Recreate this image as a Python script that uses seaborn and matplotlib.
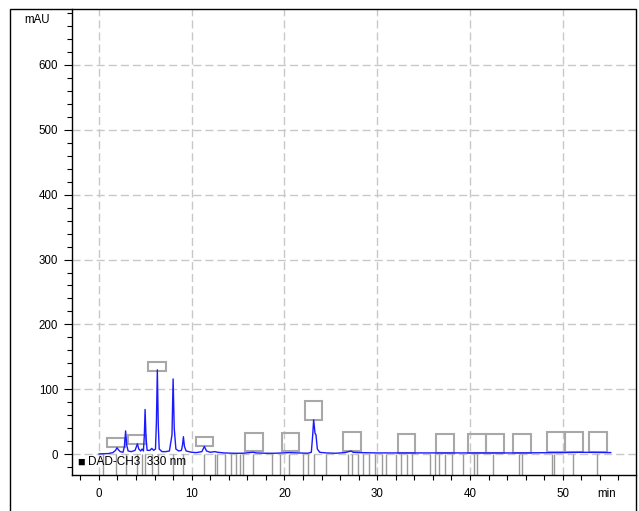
import numpy as np
import pandas as pd
import matplotlib
matplotlib.use("Agg")
import matplotlib.pyplot as plt
from matplotlib.patches import Rectangle
from matplotlib.ticker import FixedLocator, NullFormatter
import seaborn as sns

# Chromatogram trace (retention time in min, absorbance in mAU)
rt = [0.0, 0.5, 1.0, 1.5, 1.8, 1.95, 2.1, 2.3, 2.6, 2.75, 2.88, 3.0, 3.15, 3.5,
      3.9, 4.15, 4.3, 4.5, 4.65, 4.8, 4.9, 4.98, 5.08, 5.2, 5.5, 5.7, 5.9, 6.1,
      6.2, 6.3, 6.4, 6.5, 6.8, 7.2, 7.6, 7.88, 8.0, 8.12, 8.3, 8.6, 8.9, 9.02,
      9.11, 9.22, 9.4, 10.0, 10.5, 11.1, 11.37, 11.6, 12.0, 12.5, 12.8, 13.5,
      14.5, 15.5, 16.6, 17.0, 18.0, 19.0, 20.5, 21.5, 22.5, 22.9, 23.05, 23.15,
      23.3, 23.4, 23.55, 23.8, 24.5, 25.5, 26.5, 27.2, 27.4, 28.0, 30.0, 35.0,
      40.0, 45.0, 50.0, 52.0, 55.2]
mau = [0.5, 0.8, 1.0, 2.5, 6.0, 10.0, 7.0, 4.0, 3.0, 12.0, 36.0, 14.0, 5.0, 4.0,
       6.0, 16.0, 8.0, 5.0, 8.0, 5.0, 30.0, 69.0, 25.0, 6.0, 6.0, 9.0, 6.0, 8.0,
       50.0, 130.0, 45.0, 8.0, 4.0, 4.0, 5.0, 30.0, 116.0, 40.0, 8.0, 5.0, 6.0, 15.0,
       27.0, 12.0, 5.0, 3.0, 2.5, 4.0, 12.0, 5.0, 3.0, 4.0, 3.0, 2.0,
       1.5, 1.5, 3.0, 2.0, 1.5, 1.5, 2.5, 2.0, 1.5, 3.0, 30.0, 53.0,
       32.0, 30.0, 8.0, 3.0, 2.0, 1.5, 2.5, 5.0, 3.0, 2.5, 2.0, 2.0,
       2.0, 2.0, 2.5, 3.0, 2.5]

# Integration event markers (min)
events = [0.49, 1.85, 2.89, 4.15, 4.62, 4.98, 5.7, 6.34, 8.03, 9.11, 11.34,
          12.56, 12.77, 13.56, 14.2, 14.78, 15.2, 15.54, 16.65, 18.63, 19.56,
          20.53, 22.04, 22.51, 23.19, 24.45, 26.8, 27.25, 27.97, 28.5, 29.15,
          29.76, 30.48, 31.0, 32.0, 32.57, 33.18, 33.72, 35.7, 36.2, 36.7, 37.3,
          38.1, 39.2, 40.4, 40.8, 42.5, 45.25, 45.57, 48.87, 49.09, 51.13, 53.7]

# Peak label boxes: centre time (min), lower edge and height (mAU)
box_rt = [1.84, 4.08, 6.28, 11.37, 16.7, 20.66, 23.15, 27.3, 33.16, 37.34,
          40.75, 42.73, 45.6, 49.25, 51.2, 53.8]
box_low = [11.3, 15.4, 128.0, 12.3, 4.6, 4.6, 52.5, 5.0, 2.6, 2.6,
           2.6, 2.6, 2.6, 3.5, 3.5, 3.5]
box_h = [14.0, 14.0, 14.5, 14.4, 28.0, 28.0, 29.8, 30.0, 29.0, 29.0,
         29.0, 29.0, 29.0, 30.0, 30.0, 30.0]
box_w = 1.9

x_labels = [0, 10, 20, 30, 40, 50]
y_labels = [0, 100, 200, 300, 400, 500, 600]
channel = "DAD-CH3  330 nm"

sns.set_theme(style="white")
plt.rcParams["font.family"] = ["Liberation Sans", "DejaVu Sans"]

W, H = 639, 511
fig = plt.figure(figsize=(W / 100, H / 100), dpi=100)
ax = fig.add_axes([72 / W, 36 / H, (636 - 72) / W, (475 - 9) / H])

xlim = (-2.9, 57.9)
ylim = (-32, 686)

# grid
grid_kw = dict(color="#c8c8c8", lw=1.0, dashes=(5.8, 2.9), zorder=0)
for gx in x_labels:
    ax.axvline(gx, **grid_kw)
for gy in y_labels:
    ax.axhline(gy, **grid_kw)

# event markers below the baseline
ax.vlines(events, ylim[0], 0, colors="#9a9a9a", lw=1.0, zorder=1)

# peak label boxes
for c, lo, h in zip(box_rt, box_low, box_h):
    ax.add_patch(Rectangle((c - box_w / 2, lo), box_w, h, fill=False,
                           ec="#a8a8a8", lw=1.5, zorder=2))

df = pd.DataFrame({"rt": rt, "mAU": mau})
sns.lineplot(data=df, x="rt", y="mAU", ax=ax, color="#1a1aff", lw=1.0,
             zorder=3, estimator=None, sort=False)

ax.set_xlim(*xlim)
ax.set_ylim(*ylim)
ax.set_xlabel("")
ax.set_ylabel("")

ax.xaxis.set_major_locator(FixedLocator(x_labels))
ax.xaxis.set_minor_locator(FixedLocator([v for v in range(-2, 58, 2) if v % 10]))
ax.yaxis.set_major_locator(FixedLocator(y_labels))
ax.yaxis.set_minor_locator(FixedLocator([v for v in range(-20, 690, 20) if v % 100]))
ax.xaxis.set_minor_formatter(NullFormatter())
ax.yaxis.set_minor_formatter(NullFormatter())

ax.tick_params(axis="x", which="both", direction="out", length=3.8, width=0.8,
               colors="black", labelsize=8.3, pad=5.5, bottom=True)
ax.tick_params(axis="y", which="major", direction="out", length=5.5, width=0.8,
               colors="black", labelsize=8.3, pad=4.5, left=True)
ax.tick_params(axis="y", which="minor", direction="out", length=3.5, width=0.8,
               colors="black", left=True)
ax.grid(False)

for side in ("top", "right"):
    ax.spines[side].set_visible(False)
for side in ("left", "bottom"):
    ax.spines[side].set_color("black")
    ax.spines[side].set_linewidth(1.0)

# units
fig.text(50 / W, 1 - 20 / H, "mAU", ha="right", va="center", fontsize=8.3,
         color="black")
ax.text(54.7, 1 - (494 - 9) / (475 - 9) - 0.0, "min",
        transform=ax.get_xaxis_transform(), ha="center", va="center",
        fontsize=8.3, color="black")

# channel label
fig.text(77.5 / W, 1 - 468.5 / H, "\u25A0", fontsize=9, ha="left", va="bottom",
         color="black")
fig.text(88 / W, 1 - 461.5 / H, channel, fontsize=8.5, ha="left", va="center",
         color="black")

# outer frame
fig.add_artist(Rectangle((10 / W, -0.05), (636 - 10) / W, (H - 9) / H + 0.05,
                         transform=fig.transFigure, fill=False, ec="black",
                         lw=1.0, clip_on=False))

fig.savefig("out.png", dpi=100, facecolor="white")
